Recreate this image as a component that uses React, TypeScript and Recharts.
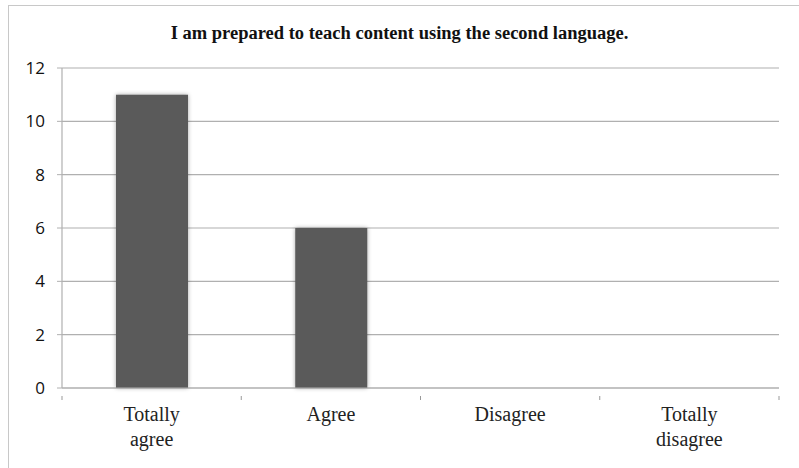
import React from "react";
import { BarChart, Bar, XAxis, YAxis, CartesianGrid, Rectangle } from "recharts";

const categories = ["Totally agree", "Agree", "Disagree", "Totally disagree"];
const counts = [11, 6, 0, 0];
const yTicks = [0, 2, 4, 6, 8, 10, 12];
const title = "I am prepared to teach content using the second language.";

const data = categories.map((c, i) => ({ name: c, value: counts[i] }));

const XTick = (props: any) => {
  const { x, y, payload, width, visibleTicksCount } = props;
  const n = visibleTicksCount || categories.length;
  const half = (width || 717) / n / 2;
  const words = String(payload.value).split(" ");
  const lines = words.length > 1 ? [words[0], words.slice(1).join(" ")] : words;
  return (
    <g>
      <line x1={x - half} x2={x - half} y1={y} y2={y + 4} stroke="#999" />
      {props.index === n - 1 && (
        <line x1={x + half} x2={x + half} y1={y} y2={y + 4} stroke="#999" />
      )}
      <text
        x={x}
        y={y}
        textAnchor="middle"
        fontFamily="'Liberation Serif', 'Times New Roman', serif"
        fontSize={20}
        fill="#222"
      >
        {lines.map((l, i) => (
          <tspan key={i} x={x} dy={25}>
            {l}
          </tspan>
        ))}
      </text>
    </g>
  );
};

const BarShape = (props: any) => (
  <Rectangle {...props} style={{ filter: "drop-shadow(0px 0px 2px rgba(0,0,0,0.35))" }} />
);

export default function App() {
  return (
    <div style={{ position: "absolute", left: 0, top: 0, width: 799, height: 468, background: "#fff", overflow: "hidden" }}>
      <div
        style={{
          position: "absolute",
          left: 8,
          top: 5,
          width: 900,
          height: 600,
          borderLeft: "1px solid #c8c8c8",
          borderTop: "1px solid #c8c8c8",
        }}
      />
      <div
        style={{
          position: "absolute",
          left: 0,
          top: 21,
          width: 799,
          textAlign: "center",
          fontFamily: "'Liberation Serif', 'Times New Roman', serif",
          fontWeight: "bold",
          fontSize: 18.5,
          lineHeight: "24px",
          color: "#111",
        }}
      >
        {title}
      </div>
      <div style={{ position: "absolute", left: 0, top: 0 }}>
        <BarChart
          width={799}
          height={468}
          data={data}
          margin={{ top: 68, right: 20, bottom: 20, left: 12 }}
          barSize={72}
        >
          <CartesianGrid vertical={false} stroke="#b0b0b0" strokeWidth={1.2} />
          <XAxis
            dataKey="name"
            axisLine={{ stroke: "#b0b0b0", strokeWidth: 1.2 }}
            tickLine={false}
            tick={<XTick />}
            height={60}
            interval={0}
          />
          <YAxis
            width={50}
            domain={[0, 12]}
            ticks={yTicks}
            interval={0}
            axisLine={{ stroke: "#b0b0b0", strokeWidth: 1.2 }}
            tickLine={{ stroke: "#b0b0b0" }}
            tickSize={5}
            tickMargin={12}
            tick={{ fontFamily: "'Open Sans', sans-serif", fontSize: 17, fill: "#111" }}
          />
          <Bar dataKey="value" fill="#5a5a5a" isAnimationActive={false} shape={<BarShape />} />
        </BarChart>
      </div>
    </div>
  );
}
